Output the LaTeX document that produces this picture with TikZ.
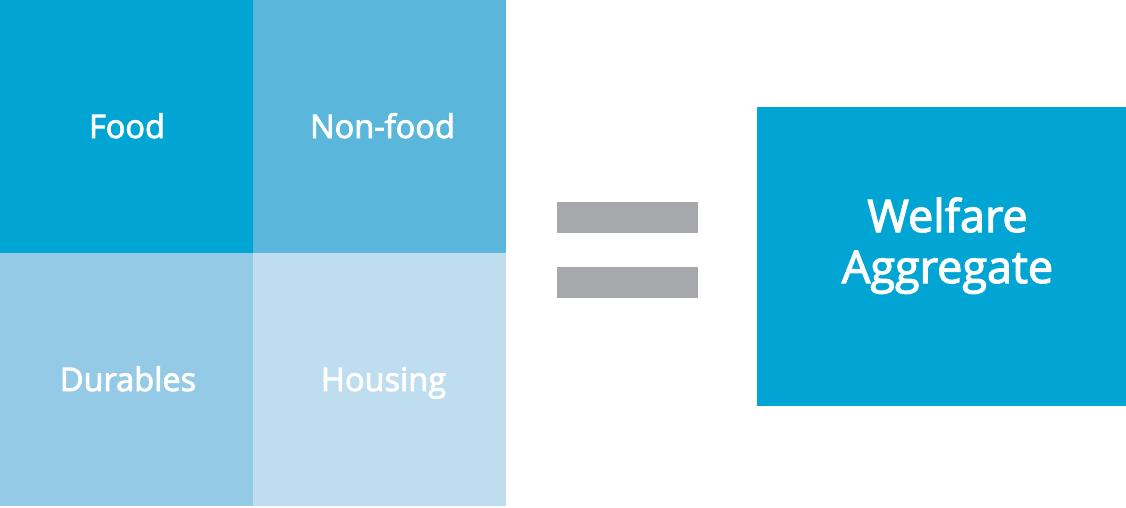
\documentclass[tikz,border=0pt]{standalone}
\usepackage{fontspec}
\setmainfont{Open Sans}
\newfontfamily\lblfont{Open Sans}[FakeBold=2.6]
\definecolor{cfood}{RGB}{0,165,212}
\definecolor{cnonfood}{RGB}{91,182,220}
\definecolor{cdur}{RGB}{149,202,230}
\definecolor{chouse}{RGB}{190,221,238}
\definecolor{cbar}{RGB}{167,168,171}
\begin{document}
\begin{tikzpicture}[x=1pt,y=-1pt,
  cell/.style={draw=none,inner sep=0pt,minimum width=253pt,minimum height=253pt},
  lbl/.style={inner sep=0pt,text=white,font=\lblfont\fontsize{32.5}{38}\selectfont,anchor=base},
  bar/.style={draw=none,fill=cbar,inner sep=0pt,minimum width=141pt,minimum height=31pt},
  big/.style={draw=none,fill=cfood,inner sep=0pt,minimum width=369pt,minimum height=299pt},
  biglbl/.style={inner sep=0pt,text=white,align=center,font=\lblfont\fontsize{45}{51}\selectfont,anchor=base}]
\useasboundingbox[fill=white] (0,0) rectangle (1126,507);
\node[cell,fill=cfood] (food) at (126.5,126.5) {};
\node[cell,fill=cnonfood] (nonfood) at (379.5,126.5) {};
\node[cell,fill=cdur] (dur) at (126.5,379.5) {};
\node[cell,fill=chouse] (house) at (379.5,379.5) {};
\node[lbl] (tfood) at (127,138) {Food};
\node[lbl] (tnonfood) at (382.5,138) {Non-food};
\node[lbl] (tdur) at (128,391) {Durables};
\node[lbl] (thouse) at (383.5,391) {Housing};
\node[bar] (bar1) at (627.5,217.5) {};
\node[bar] (bar2) at (627.5,282.5) {};
\node[big] (welfare) at (941.5,256.5) {};
\node[biglbl] (tw1) at (947.5,232) {Welfare};
\node[biglbl] (tw2) at (947.5,283) {Aggregate};
\end{tikzpicture}
\end{document}
